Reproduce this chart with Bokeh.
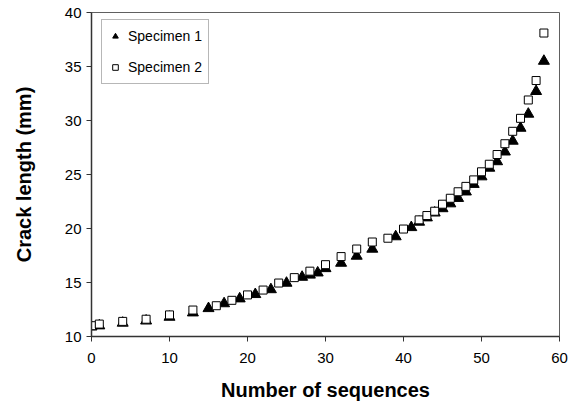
from bokeh.plotting import figure
from bokeh.models import Range1d, FixedTicker, Legend, LegendItem
from bokeh.embed import file_html
from bokeh.resources import INLINE

s1_x = [0, 1, 4, 7, 10, 13, 15, 17, 19, 21, 23, 25, 27, 28, 29, 30, 32, 34, 36, 39,
        41, 42, 43, 44, 45, 46, 47, 48, 49, 50, 51, 52, 53, 54, 55, 56, 57, 58]
s1_y = [10.9, 11.0, 11.25, 11.45, 11.8, 12.2, 12.6, 13.05, 13.5, 13.9, 14.35, 14.95, 15.5, 15.7,
        15.9, 16.3, 16.8, 17.45, 18.1, 19.25, 20.1, 20.6, 21.0, 21.45, 21.85, 22.3, 22.8, 23.4,
        24.1, 24.8, 25.6, 26.2, 27.1, 28.1, 29.3, 30.6, 32.7, 35.5]

s2_x = [0, 1, 4, 7, 10, 13, 16, 18, 20, 22, 24, 26, 28, 30, 32, 34, 36, 38, 40, 42, 43,
        44, 45, 46, 47, 48, 49, 50, 51, 52, 53, 54, 55, 56, 57, 58]
s2_y = [11.0, 11.15, 11.4, 11.6, 12.0, 12.45, 12.85, 13.35, 13.85, 14.3, 14.95, 15.45, 16.05,
        16.65, 17.4, 18.1, 18.75, 19.1, 19.95, 20.8, 21.2, 21.6, 22.25, 22.8, 23.4, 23.9, 24.5,
        25.25, 25.95, 26.85, 27.85, 29.0, 30.2, 31.9, 33.7, 38.1]

x_ticks = [0, 10, 20, 30, 40, 50, 60]
y_ticks = [10, 15, 20, 25, 30, 35, 40]
x_label = "Number of sequences"
y_label = "Crack length (mm)"
names = ["Specimen 1", "Specimen 2"]

FONT = "Liberation Sans"

p = figure(width=579, height=406, output_backend="svg", toolbar_location=None,
           x_range=Range1d(0, 60), y_range=Range1d(10, 40),
           min_border_left=91, min_border_right=20, min_border_top=12, min_border_bottom=70)
p.background_fill_color = "white"
p.border_fill_color = "white"
p.outline_line_color = "#606060"
p.outline_line_width = 1
p.grid.visible = False

r1 = p.scatter(s1_x, s1_y, marker="triangle", size=11, fill_color="black", line_color="black")
r2 = p.scatter(s2_x, s2_y, marker="square", size=8, fill_color="white", line_color="black", line_width=1)

for ax, ticks, lab in ((p.xaxis[0], x_ticks, x_label), (p.yaxis[0], y_ticks, y_label)):
    ax.ticker = FixedTicker(ticks=ticks)
    ax.minor_tick_line_color = None
    ax.major_tick_in = 0
    ax.major_tick_out = 5
    ax.axis_line_color = "#333333"
    ax.axis_line_width = 1.5
    ax.major_tick_line_color = "#333333"
    ax.major_label_text_font = FONT
    ax.major_label_text_font_size = "15px"
    ax.major_label_text_color = "black"
    ax.axis_label = lab
    ax.axis_label_text_font = FONT
    ax.axis_label_text_font_style = "bold"
    ax.axis_label_text_font_size = "20px"
    ax.axis_label_text_color = "black"

p.xaxis[0].major_label_standoff = 11
p.xaxis[0].axis_label_standoff = 13
p.yaxis[0].major_label_standoff = 5
p.yaxis[0].axis_label_standoff = 27

legend = Legend(items=[LegendItem(label=names[0], renderers=[r1]),
                       LegendItem(label=names[1], renderers=[r2])],
                location=(10, 252))
legend.label_text_font = FONT
legend.label_text_font_size = "14px"
legend.label_text_color = "black"
legend.border_line_color = "#707070"
legend.border_line_width = 1
legend.background_fill_color = "white"
legend.background_fill_alpha = 1
legend.padding = 6
legend.spacing = 11
legend.glyph_width = 14
legend.glyph_height = 20
legend.label_height = 20
legend.label_standoff = 6
legend.margin = 0
p.add_layout(legend, "center")

open("out.html", "w").write(file_html(p, INLINE))
